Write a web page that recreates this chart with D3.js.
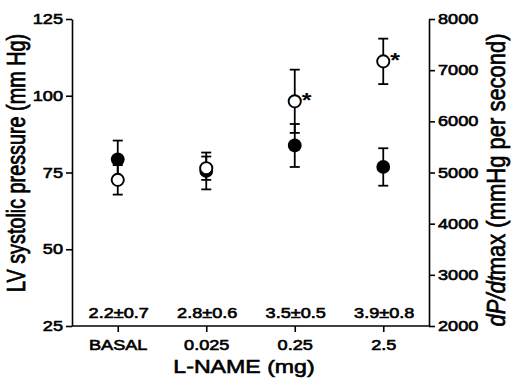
<!DOCTYPE html>
<html>
<head>
<meta charset="utf-8">
<script src="https://cdn.jsdelivr.net/npm/d3@7"></script>
<style>
  html, body { margin: 0; padding: 0; background: #fff; }
  svg { display: block; }
  text { font-family: "Liberation Sans", Arial, Helvetica, sans-serif; fill: #000; }
</style>
</head>
<body>
<svg id="chart" width="511" height="381"></svg>
<script>
// ---- data ----
const categories = ["BASAL", "0.025", "0.25", "2.5"];
const lvPressure = [79.3, 75.5, 83.8, 76.8];        // filled circles, mm Hg (left axis)
const lvPressureErr = [6.1, 6.0, 7.0, 6.1];
const dpdtMax = [4856, 5084, 6392, 7172];            // open circles, mmHg/s (right axis)
const dpdtMaxErr = [288, 228, 618, 444];
const significant = [false, false, true, true];
const bottomNotes = ["2.2\u00b10.7", "2.8\u00b10.6", "3.5\u00b10.5", "3.9\u00b10.8"];
const leftTicks = [25, 50, 75, 100, 125];
const rightTicks = [2000, 3000, 4000, 5000, 6000, 7000, 8000];

(function () {
// ---- layout ----
const SX = 1.25; // horizontal stretch of the original artwork
const TW = 0.6;  // text stroke for the heavy print look
const FS = 14.5;
const pLeft = 72, pRight = 429, pTop = 19, pBottom = 326;
const svg = d3.select("#chart");

const x = d3.scalePoint().domain(categories).range([73.5, 427.5]).padding(0.5);
const yL = d3.scaleLinear().domain([25, 125]).range([pBottom, pTop]);
const yR = d3.scaleLinear().domain([2000, 8000]).range([pBottom, pTop]);

function styleAxis(g) {
  g.selectAll("path, line").attr("stroke", "#000").attr("stroke-width", 1.6);
  g.selectAll("text").attr("font-size", FS).attr("stroke", "#000").attr("stroke-width", TW)
    .attr("font-family", "'Liberation Sans', Arial, sans-serif").attr("fill", "#000");
}

// left axis
const gL = svg.append("g").attr("transform", `translate(${pLeft},0)`)
  .call(d3.axisLeft(yL).tickValues(leftTicks).tickSize(6).tickSizeOuter(0).tickPadding(4));
styleAxis(gL);
gL.selectAll(".tick text").attr("x", -9 / SX).attr("transform", `scale(${SX},1)`);

// right axis
const gR = svg.append("g").attr("transform", `translate(${pRight},0)`)
  .call(d3.axisRight(yR).tickValues(rightTicks).tickFormat(d3.format("d"))
    .tickSize(6).tickSizeOuter(0).tickPadding(4));
styleAxis(gR);
gR.selectAll(".tick text").attr("x", 9 / SX).attr("transform", `scale(${SX},1)`);

// bottom axis
const gB = svg.append("g").attr("transform", `translate(0,${pBottom})`)
  .call(d3.axisBottom(x).tickSize(6).tickSizeOuter(0).tickPadding(8));
gB.select(".domain").attr("d", `M${pLeft},0H${pRight}`);
styleAxis(gB);
gB.selectAll(".tick text").attr("transform", `scale(${SX},1)`);

// ---- error bars ----
const capW = 5;
function errBars(vals, errs, scale, cls) {
  const g = svg.append("g").attr("class", cls);
  categories.forEach((c, i) => {
    const cx = x(c), y1 = scale(vals[i] + errs[i]), y2 = scale(vals[i] - errs[i]);
    g.append("line").attr("x1", cx).attr("x2", cx).attr("y1", y1).attr("y2", y2)
      .attr("stroke", "#000").attr("stroke-width", 1.8);
    [y1, y2].forEach(yy => g.append("line").attr("x1", cx - capW).attr("x2", cx + capW)
      .attr("y1", yy).attr("y2", yy).attr("stroke", "#000").attr("stroke-width", 1.8));
  });
}
errBars(lvPressure, lvPressureErr, yL, "err-lv");
errBars(dpdtMax, dpdtMaxErr, yR, "err-dpdt");

// ---- points ----
svg.append("g").selectAll("circle").data(categories).join("circle")
  .attr("cx", d => x(d)).attr("cy", (d, i) => yL(lvPressure[i]))
  .attr("r", 6.9).attr("fill", "#000");

svg.append("g").selectAll("circle").data(categories).join("circle")
  .attr("cx", d => x(d)).attr("cy", (d, i) => yR(dpdtMax[i]))
  .attr("r", 6.1).attr("fill", "#fff").attr("stroke", "#000").attr("stroke-width", 1.9);

// significance asterisks
categories.forEach((c, i) => {
  if (!significant[i]) return;
  const cx = x(c), cy = yR(dpdtMax[i]);
  svg.append("text").attr("transform", `translate(${cx + 7},${cy + 6}) scale(${SX},1)`)
    .attr("font-size", 20).attr("font-weight", "bold").text("*");
});

// bottom notes
svg.append("g").selectAll("text").data(categories).join("text")
  .attr("transform", d => `translate(${x(d) + 1},318) scale(${SX},1)`)
  .attr("text-anchor", "middle").attr("font-size", FS)
  .attr("stroke", "#000").attr("stroke-width", TW)
  .text((d, i) => bottomNotes[i]);

// axis titles
svg.append("text").attr("transform", `translate(244,373) scale(${SX},1)`)
  .attr("text-anchor", "middle").attr("font-size", 18.5)
  .attr("stroke", "#000").attr("stroke-width", TW)
  .text("L-NAME (mg)");

svg.append("text").attr("transform", `translate(25,163) scale(1.3,1) rotate(-90)`)
  .attr("text-anchor", "middle").attr("font-size", 19.8)
  .attr("stroke", "#000").attr("stroke-width", TW)
  .text("LV systolic pressure (mm Hg)");

const rt = svg.append("text").attr("transform", `translate(505,180) scale(1.15,1) rotate(-90)`)
  .attr("text-anchor", "middle").attr("font-size", 22)
  .attr("stroke", "#000").attr("stroke-width", TW);
rt.append("tspan").attr("font-style", "italic").text("dP/dt");
rt.append("tspan").text("max (mmHg per second)");
})();
</script>
</body>
</html>
